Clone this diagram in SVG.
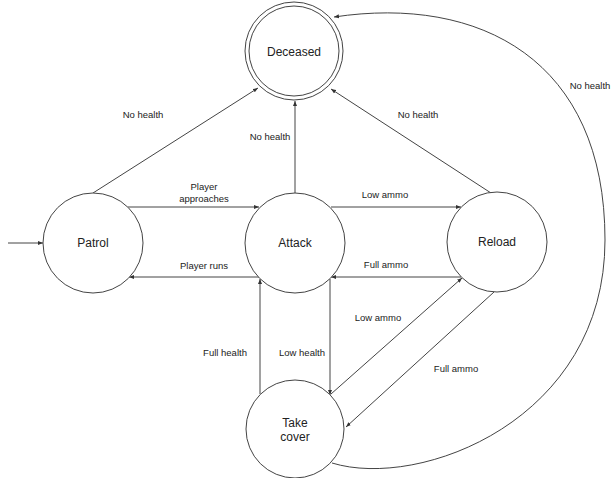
<svg xmlns="http://www.w3.org/2000/svg" width="612" height="478" viewBox="0 0 612 478">
<style>
.node{fill:#fff;stroke:#444;stroke-width:1}
.edge{fill:none;stroke:#444;stroke-width:1}
.nl{font-family:"Liberation Sans",Arial,sans-serif;font-size:12px;fill:#222;text-anchor:middle}
.el{font-family:"Liberation Sans",Arial,sans-serif;font-size:9.5px;fill:#222;text-anchor:middle}
</style>
<defs>
<marker id="arr" viewBox="0 0 10 10" refX="10" refY="5" markerWidth="5" markerHeight="5" orient="auto" markerUnits="userSpaceOnUse">
<path d="M0,1 L10,5 L0,9 z" fill="#333"/>
</marker>
</defs>
<rect width="612" height="478" fill="#fff"/>
<g id="connectors">
<line class="edge" x1="8" y1="243" x2="43" y2="243" marker-end="url(#arr)"/>
<line class="edge" x1="93" y1="193" x2="258" y2="88" marker-end="url(#arr)"/>
<line class="edge" x1="295" y1="193" x2="295" y2="101" marker-end="url(#arr)"/>
<line class="edge" x1="491" y1="193" x2="331" y2="89" marker-end="url(#arr)"/>
<path class="edge" d="M332,463 C420,490 605,420 605,240 C605,60 480,-5 334,17" marker-end="url(#arr)"/>
<line class="edge" x1="128" y1="207" x2="259" y2="207" marker-end="url(#arr)"/>
<line class="edge" x1="331" y1="207" x2="461" y2="207" marker-end="url(#arr)"/>
<line class="edge" x1="461" y1="277" x2="331" y2="277" marker-end="url(#arr)"/>
<line class="edge" x1="259" y1="277" x2="129" y2="277" marker-end="url(#arr)"/>
<line class="edge" x1="260" y1="394" x2="260" y2="279" marker-end="url(#arr)"/>
<line class="edge" x1="330" y1="279" x2="330" y2="395" marker-end="url(#arr)"/>
<line class="edge" x1="331" y1="394" x2="462" y2="278" marker-end="url(#arr)"/>
<line class="edge" x1="494" y1="292" x2="346" y2="427" marker-end="url(#arr)"/>
</g>
<g id="edge-labels">
<text class="el" x="143" y="118">No health</text>
<text class="el" x="270" y="140">No health</text>
<text class="el" x="418" y="118">No health</text>
<text class="el" x="590" y="89">No health</text>
<text class="el" x="204" y="190">Player</text>
<text class="el" x="204" y="202">approaches</text>
<text class="el" x="385" y="198">Low ammo</text>
<text class="el" x="386" y="268">Full ammo</text>
<text class="el" x="204" y="269">Player runs</text>
<text class="el" x="225" y="356">Full health</text>
<text class="el" x="302" y="356">Low health</text>
<text class="el" x="378" y="321">Low ammo</text>
<text class="el" x="456" y="372">Full ammo</text>
</g>
<g id="deceased">
<circle class="node" cx="294" cy="51" r="49"/>
<circle class="node" cx="294" cy="51" r="45"/>
<text class="nl" x="294" y="56">Deceased</text>
</g>
<g id="patrol">
<circle class="node" cx="93" cy="243" r="50"/>
<text class="nl" x="93" y="247">Patrol</text>
</g>
<g id="attack">
<circle class="node" cx="295" cy="243" r="50"/>
<text class="nl" x="295" y="247">Attack</text>
</g>
<g id="reload">
<circle class="node" cx="497" cy="242" r="50"/>
<text class="nl" x="497" y="246">Reload</text>
</g>
<g id="takecover">
<circle class="node" cx="295" cy="429" r="49"/>
<text class="nl" x="295" y="427">Take</text>
<text class="nl" x="295" y="441">cover</text>
</g>
</svg>
